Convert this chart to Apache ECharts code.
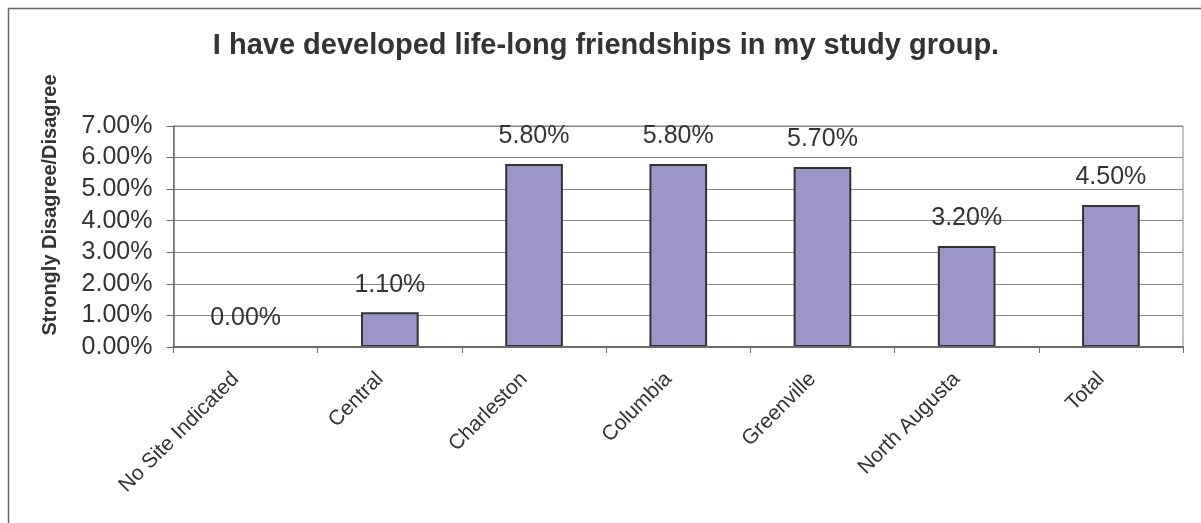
<!DOCTYPE html>
<html>
<head>
<meta charset="utf-8">
<script src="https://cdn.jsdelivr.net/npm/echarts@6/dist/echarts.min.js"></script>
<style>
html,body{margin:0;padding:0;background:#fff;}
#chart{width:1201px;height:523px;}
</style>
</head>
<body>
<div id="chart"></div>
<script>
const titleText = 'I have developed life-long friendships in my study group.';
const yAxisTitle = 'Strongly Disagree/Disagree';
const categories = ['No Site Indicated', 'Central', 'Charleston', 'Columbia', 'Greenville', 'North Augusta', 'Total'];
const values = [0.0, 1.1, 5.8, 5.8, 5.7, 3.2, 4.5];
const yMin = 0, yMax = 7, yStep = 1;

const FONT = "'Liberation Sans', Arial, sans-serif";
const chart = echarts.init(document.getElementById('chart'));
chart.setOption({
  backgroundColor: '#ffffff',
  animation: false,
  graphic: [
    { type: 'rect', shape: { x: 8.5, y: 8.5, width: 1400, height: 700 },
      style: { fill: 'none', stroke: '#666', lineWidth: 1.5 }, silent: true },
    { type: 'text', x: 606, y: 46,
      style: { text: titleText, font: "bold 29px 'Liberation Sans', Arial, sans-serif",
        fill: '#333', textAlign: 'center', textVerticalAlign: 'middle' } },
    { type: 'text', x: 50, y: 205, rotation: Math.PI / 2,
      style: { text: yAxisTitle, font: "bold 20px 'Liberation Sans', Arial, sans-serif",
        fill: '#333', textAlign: 'center', textVerticalAlign: 'middle' } }
  ],
  grid: { left: 173.5, right: 18, top: 126, bottom: 176, show: true,
    borderColor: '#8a8585', borderWidth: 1, backgroundColor: 'transparent' },
  xAxis: {
    type: 'category',
    data: categories,
    z: 5,
    axisLine: { lineStyle: { color: '#6e6868', width: 2 } },
    axisTick: { show: true, length: 6, inside: false, lineStyle: { color: '#6e6868' } },
    axisLabel: { rotate: 45, margin: 19, padding: [0, 14, 0, 0], fontSize: 21, fontFamily: FONT, color: '#333', interval: 0 },
    splitLine: { show: false }
  },
  yAxis: {
    type: 'value',
    min: yMin, max: yMax, interval: yStep,
    axisLine: { show: true, lineStyle: { color: '#6e6868', width: 1.5 } },
    axisTick: { show: true, length: 7, inside: false, lineStyle: { color: '#6e6868' } },
    axisLabel: { margin: 21, fontSize: 25, fontFamily: FONT, color: '#333',
      formatter: v => v.toFixed(2) + '%' },
    splitLine: { show: true, lineStyle: { color: '#8a8585', width: 1 } }
  },
  series: [{
    type: 'bar',
    data: values,
    barWidth: '40%',
    itemStyle: { color: '#9C96C8', borderColor: '#333', borderWidth: 2 },
    label: { show: true, position: 'top', distance: 15, fontSize: 25, fontFamily: FONT, color: '#333',
      formatter: p => p.value.toFixed(2) + '%' }
  }]
});
</script>
</body>
</html>
